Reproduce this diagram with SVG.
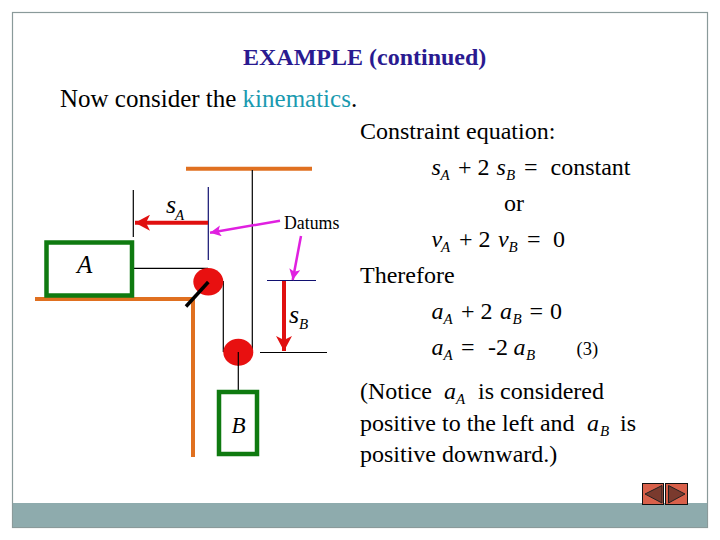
<svg xmlns="http://www.w3.org/2000/svg" width="720" height="540" viewBox="0 0 720 540">
<style>
text{font-family:"Liberation Serif","Times New Roman",serif;fill:#000}
.m{font-size:24px}
.i{font-style:italic}
.b{font-style:italic;font-size:15px}
.thin{stroke:#000;stroke-width:1.2;fill:none}
.navy{stroke:#101070;stroke-width:1.2;fill:none}
.or{stroke:#e07020;stroke-width:4;fill:none}
.box{stroke:#0f7a10;stroke-width:4.5;fill:#fff}
.red{stroke:#e01010;stroke-width:4;fill:none}
.mag{stroke:#e020e0;stroke-width:2.5;fill:none}
.pul{fill:#e81010}
.btn{fill:#d8604a;stroke:#111;stroke-width:1}
.tri{fill:#7a3a2e;stroke:#222;stroke-width:1}
</style>
<defs>
<marker id="ar" markerUnits="userSpaceOnUse" markerWidth="17" markerHeight="16" refX="15" refY="8" orient="auto"><path d="M0 0L15 8L0 16L4 8Z" fill="#e01010"/></marker>
<marker id="am" markerUnits="userSpaceOnUse" markerWidth="12" markerHeight="11" refX="11" refY="5.500" orient="auto"><path d="M0 0L11 5.500L0 11L2.500 5.500Z" fill="#e020e0"/></marker>
</defs>
<rect width="720" height="540" fill="#fff"/>
<g id="frame">
<rect x="12.500" y="12.500" width="695" height="515" fill="#fff" stroke="#8a9a9a" stroke-width="1.200"/>
<rect x="13" y="503" width="694" height="24" fill="#8eabad"/>
</g>
<g id="title"><text x="243" y="65" font-weight="bold" style="font-size:24px;fill:#2a1a90">EXAMPLE (continued)</text></g>
<g id="heading"><text x="60" y="107" style="font-size:25px">Now consider the <tspan style="fill:#1a9ab0">kinematics</tspan>.</text></g>
<g id="connectors">
<path class="or" d="M186 168.700H312"/>
<path class="or" d="M35 299H193M193 298V457"/>
<path class="thin" d="M252.300 170V352"/>
<path class="thin" d="M133.300 190V237"/>
<path class="navy" d="M208.300 187V260"/>
<path class="thin" d="M134 268.300H208"/>
<path class="thin" d="M223.300 281V352"/>
<path class="thin" d="M238.300 352V390"/>
<path class="navy" d="M267 280.500H316"/>
<path class="thin" d="M260 352.500H327"/>
<path class="red" d="M208 222.700H135" marker-end="url(#ar)"/>
<path class="red" d="M284 281V351" marker-end="url(#ar)"/>
<path class="mag" d="M280 220.700L210 232.700" marker-end="url(#am)"/>
<path class="mag" d="M301 236L292.700 280" marker-end="url(#am)"/>
</g>
<g id="block-a"><rect class="box" x="46.500" y="242.500" width="85.500" height="53"/><text class="i" x="77" y="273" style="font-size:25px">A</text></g>
<g id="block-b"><rect class="box" x="219" y="392" width="38" height="62"/><text class="i" x="231.500" y="433" style="font-size:23px">B</text></g>
<g id="pulley-1"><ellipse class="pul" cx="208.300" cy="281.700" rx="15" ry="13.700"/><path d="M186 306.500L208.300 282" stroke="#000" stroke-width="3.500"/></g>
<g id="pulley-2"><ellipse class="pul" cx="238.300" cy="352.300" rx="15" ry="13.500"/><path class="thin" d="M238.300 352V366"/></g>
<g id="label-sa"><text class="i" x="166" y="213" style="font-size:26px">s<tspan x="175" y="219.500" style="font-size:15px">A</tspan></text></g>
<g id="label-sb"><text class="i" x="289" y="323" style="font-size:26px">s<tspan x="299" y="329" style="font-size:15px">B</tspan></text></g>
<g id="label-datums"><text x="284" y="229" style="font-size:17.800px">Datums</text></g>
<g id="equations">
<text class="m" x="360" y="139">Constraint equation:</text>
<text class="m" y="175"><tspan class="i" x="431.500">s</tspan><tspan class="b" x="440.500" y="180">A</tspan><tspan x="458" y="175">+ 2</tspan><tspan class="i" x="496.500">s</tspan><tspan class="b" x="506" y="180">B</tspan><tspan x="524" y="175">=</tspan><tspan x="550.500">constant</tspan></text>
<text class="m" x="504" y="211">or</text>
<text class="m" y="247"><tspan class="i" x="431.500">v</tspan><tspan class="b" x="441" y="252">A</tspan><tspan x="459" y="247">+ 2</tspan><tspan class="i" x="498">v</tspan><tspan class="b" x="508.500" y="252">B</tspan><tspan x="527" y="247">=</tspan><tspan x="553">0</tspan></text>
<text class="m" x="360" y="283">Therefore</text>
<text class="m" y="319"><tspan class="i" x="431.500">a</tspan><tspan class="b" x="443.500" y="324">A</tspan><tspan x="461" y="319">+ 2</tspan><tspan class="i" x="500">a</tspan><tspan class="b" x="512.500" y="324">B</tspan><tspan x="529.500" y="319">=</tspan><tspan x="550">0</tspan></text>
<text class="m" y="355"><tspan class="i" x="431.500">a</tspan><tspan class="b" x="443.500" y="360">A</tspan><tspan x="461" y="355">=</tspan><tspan x="488">-2</tspan><tspan class="i" x="513.500">a</tspan><tspan class="b" x="526" y="360">B</tspan></text>
<text x="576.500" y="355" style="font-size:18.500px">(3)</text>
<text class="m" y="399"><tspan x="360">(Notice</tspan><tspan class="i" x="444">a</tspan><tspan class="b" x="456" y="404">A</tspan><tspan x="478" y="399">is considered</tspan></text>
<text class="m" y="431"><tspan x="360">positive to the left and</tspan><tspan class="i" x="587">a</tspan><tspan class="b" x="600" y="436">B</tspan><tspan x="620" y="431">is</tspan></text>
<text class="m" x="360" y="462">positive downward.)</text>
</g>
<g id="nav-prev"><rect class="btn" x="642.500" y="483.500" width="21" height="21"/><path class="tri" d="M645 494L662 485.500V503Z"/></g>
<g id="nav-next"><rect class="btn" x="665.500" y="483.500" width="22" height="21"/><path class="tri" d="M668.500 485.500L685 494L668.500 503Z"/></g>
</svg>
